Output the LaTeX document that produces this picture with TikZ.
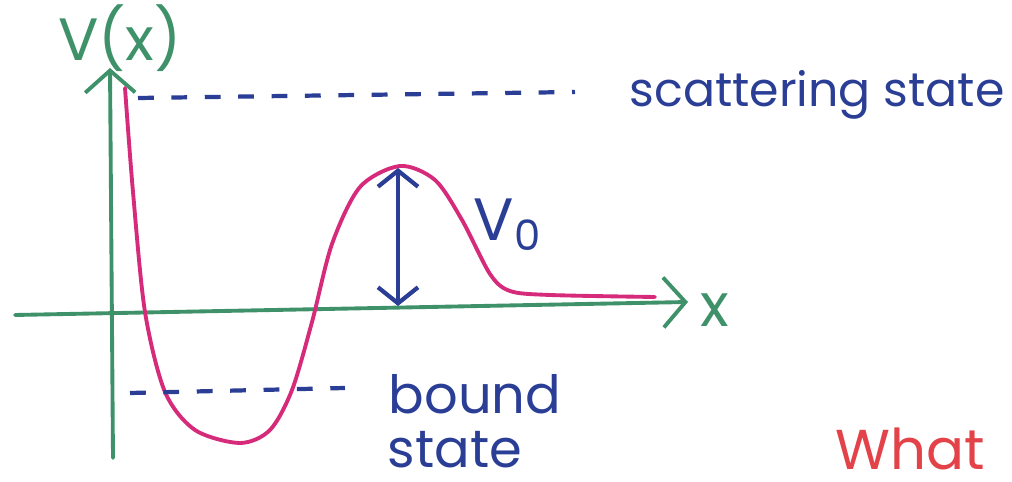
\documentclass[tikz,border=0pt]{standalone}
\usepackage{fontspec}
\setmainfont{Poppins}
\usepackage{xcolor}
\usetikzlibrary{arrows.meta, positioning}
\definecolor{penGreen}{RGB}{62,145,105}
\definecolor{penPink}{RGB}{214,42,122}
\definecolor{penBlue}{RGB}{42,62,150}
\definecolor{penRed}{RGB}{226,66,72}

\begin{document}
\begin{tikzpicture}[
    axis/.style = {penGreen, line width=1.1pt, line cap=round, -{Straight Barb[length=2.2mm, width=5mm, line width=1.1pt]}},
    pot/.style = {penPink, line width=1.1pt, line cap=round},
    lvl/.style = {penBlue, line width=1.2pt, dash pattern=on 4.5pt off 5pt},
    lbl/.style = {penBlue, font=\fontsize{13.5}{16}\selectfont, inner sep=0pt},
    ]
    \useasboundingbox (0,0) rectangle (10.12,4.82);

    % axes
    \coordinate (yfoot) at (1.13,0.24);
    \coordinate (ytip) at (1.10,4.14);
    \coordinate (xfoot) at (0.15,1.67);
    \coordinate (xtip) at (6.88,1.80);
    \draw[axis] (yfoot) -- (ytip);
    \draw[axis] (xfoot) -- (xtip);
    \node[penGreen, font=\fontsize{17}{19}\selectfont, inner sep=0pt] (vlabel) at (1.20,4.44) {V(x)};
    \node[penGreen, font=\fontsize{17}{19}\selectfont, inner sep=0pt] (xlabel) at (7.15,1.72) {x};

    % the potential
    \draw[pot] plot[smooth, tension=0.5] coordinates {
        (1.25,3.94) (1.33,2.90) (1.45,1.70) (1.65,0.90) (1.95,0.52) (2.40,0.39)
        (2.70,0.52) (2.92,0.92) (3.12,1.60) (3.32,2.38) (3.60,2.95) (4.00,3.16)
        (4.35,3.02) (4.62,2.62) (4.90,2.08) (5.10,1.91) (5.50,1.87) (6.55,1.85)};

    % levels
    \coordinate (sc1) at (1.38,3.84);
    \coordinate (sc2) at (5.75,3.90);
    \draw[lvl] (sc1) -- (sc2);
    \coordinate (bd1) at (1.30,0.89);
    \coordinate (bd2) at (3.45,0.94);
    \draw[lvl] (bd1) -- (bd2);

    % barrier height
    \coordinate (peak) at (3.98,3.14);
    \coordinate (base) at (3.98,1.76);
    \draw[penBlue, line width=1.2pt, {Straight Barb[length=1.6mm, width=4mm, line width=1.2pt]}-{Straight Barb[length=1.6mm, width=4mm, line width=1.2pt]}] (peak) -- (base);
    \node[lbl, font=\fontsize{17}{19}\selectfont] (vnull) at (5.08,2.57) {V\textsubscript{0}};

    \node[lbl] (scat) at (8.17,3.87) {scattering state};
    \node[lbl, font=\fontsize{15}{18}\selectfont] (bound) at (4.75,0.88) {bound};
    \node[lbl, font=\fontsize{15}{18}\selectfont, anchor=base] (bstate) at (4.55,0.14) {state};
    \node[penRed, font=\fontsize{16}{19}\selectfont, anchor=base west, inner sep=0pt] (what) at (8.35,0.12) {What};
\end{tikzpicture}
\end{document}
